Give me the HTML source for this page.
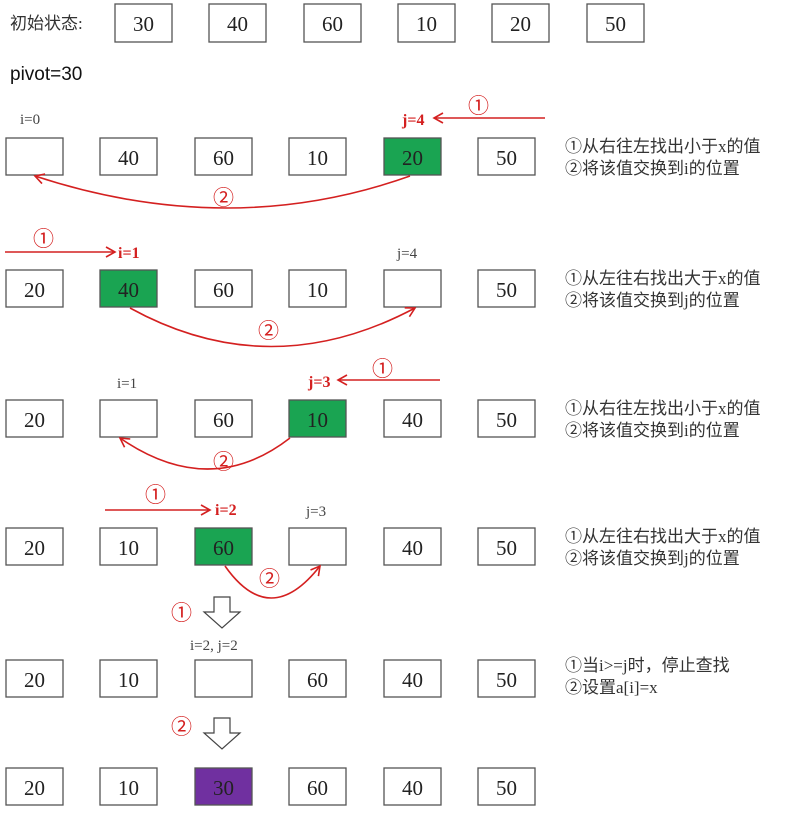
<!DOCTYPE html>
<html><head><meta charset="utf-8"><style>
body{margin:0;background:#fff;width:787px;height:813px;overflow:hidden}
svg text{font-family:"Liberation Serif","Noto Serif CJK SC",serif}
.n{font-size:21px;fill:#222;text-anchor:middle}
.g{font-size:15px;fill:#444}
.r{font-size:16px;fill:#d42020;font-weight:bold}
.c{font-size:21px;fill:#d42020;font-family:"Liberation Sans","Noto Sans CJK SC",sans-serif}
.t{font-size:17px;fill:#333;font-family:"Liberation Serif","Noto Sans CJK SC",sans-serif}
rect{stroke:#555;stroke-width:1.3;fill:#fff}
.ln{stroke:#d42020;stroke-width:1.6;fill:none}
</style></head><body>
<svg width="787" height="813" xmlns="http://www.w3.org/2000/svg">
<defs><marker id="a" markerWidth="12" markerHeight="12" refX="10" refY="6" orient="auto" markerUnits="userSpaceOnUse"><path d="M1,1 L10,6 L1,11" fill="none" stroke="#d42020" stroke-width="1.6"/></marker></defs>
<text x="10" y="29" class="t">初始状态:</text>
<g>
<rect x="115" y="4" width="57" height="38"/><text x="143.5" y="31" class="n">30</text>
<rect x="209" y="4" width="57" height="38"/><text x="237.5" y="31" class="n">40</text>
<rect x="304" y="4" width="57" height="38"/><text x="332.5" y="31" class="n">60</text>
<rect x="398" y="4" width="57" height="38"/><text x="426.5" y="31" class="n">10</text>
<rect x="492" y="4" width="57" height="38"/><text x="520.5" y="31" class="n">20</text>
<rect x="587" y="4" width="57" height="38"/><text x="615.5" y="31" class="n">50</text>
</g>
<text x="10" y="80" style="font-family:'Liberation Sans',sans-serif;font-size:19px;fill:#111">pivot=30</text>

<g transform="translate(0,138)">
<rect x="6" width="57" height="37"/>
<rect x="100" width="57" height="37"/><text x="128.5" y="27" class="n">40</text>
<rect x="195" width="57" height="37"/><text x="223.5" y="27" class="n">60</text>
<rect x="289" width="57" height="37"/><text x="317.5" y="27" class="n">10</text>
<rect x="384" width="57" height="37" style="fill:#1aa452"/><text x="412.5" y="27" class="n">20</text>
<rect x="478" width="57" height="37"/><text x="506.5" y="27" class="n">50</text>
</g>
<text x="20" y="124" class="g">i=0</text>
<text x="402" y="125" class="r">j=4</text>
<line x1="545" y1="118" x2="434" y2="118" class="ln" marker-end="url(#a)"/>
<text x="468" y="113" class="c">①</text>
<path d="M410,176 Q230,240 35,176" class="ln" marker-end="url(#a)"/>
<text x="213" y="205" class="c">②</text>
<text x="565" y="152" class="t">①从右往左找出小于x的值</text>
<text x="565" y="174" class="t">②将该值交换到i的位置</text>

<g transform="translate(0,270)">
<rect x="6" width="57" height="37"/><text x="34.5" y="27" class="n">20</text>
<rect x="100" width="57" height="37" style="fill:#1aa452"/><text x="128.5" y="27" class="n">40</text>
<rect x="195" width="57" height="37"/><text x="223.5" y="27" class="n">60</text>
<rect x="289" width="57" height="37"/><text x="317.5" y="27" class="n">10</text>
<rect x="384" width="57" height="37"/>
<rect x="478" width="57" height="37"/><text x="506.5" y="27" class="n">50</text>
</g>
<line x1="5" y1="252" x2="115" y2="252" class="ln" marker-end="url(#a)"/>
<text x="33" y="246" class="c">①</text>
<text x="118" y="258" class="r">i=1</text>
<text x="397" y="258" class="g">j=4</text>
<path d="M130,308 Q270,385 415,308" class="ln" marker-end="url(#a)"/>
<text x="258" y="338" class="c">②</text>
<text x="565" y="284" class="t">①从左往右找出大于x的值</text>
<text x="565" y="306" class="t">②将该值交换到j的位置</text>

<g transform="translate(0,400)">
<rect x="6" width="57" height="37"/><text x="34.5" y="27" class="n">20</text>
<rect x="100" width="57" height="37"/>
<rect x="195" width="57" height="37"/><text x="223.5" y="27" class="n">60</text>
<rect x="289" width="57" height="37" style="fill:#1aa452"/><text x="317.5" y="27" class="n">10</text>
<rect x="384" width="57" height="37"/><text x="412.5" y="27" class="n">40</text>
<rect x="478" width="57" height="37"/><text x="506.5" y="27" class="n">50</text>
</g>
<text x="117" y="388" class="g">i=1</text>
<text x="308" y="387" class="r">j=3</text>
<line x1="440" y1="380" x2="338" y2="380" class="ln" marker-end="url(#a)"/>
<text x="372" y="376" class="c">①</text>
<path d="M290,438 Q210,500 120,438" class="ln" marker-end="url(#a)"/>
<text x="213" y="469" class="c">②</text>
<text x="565" y="414" class="t">①从右往左找出小于x的值</text>
<text x="565" y="436" class="t">②将该值交换到i的位置</text>

<g transform="translate(0,528)">
<rect x="6" width="57" height="37"/><text x="34.5" y="27" class="n">20</text>
<rect x="100" width="57" height="37"/><text x="128.5" y="27" class="n">10</text>
<rect x="195" width="57" height="37" style="fill:#1aa452"/><text x="223.5" y="27" class="n">60</text>
<rect x="289" width="57" height="37"/>
<rect x="384" width="57" height="37"/><text x="412.5" y="27" class="n">40</text>
<rect x="478" width="57" height="37"/><text x="506.5" y="27" class="n">50</text>
</g>
<line x1="105" y1="510" x2="210" y2="510" class="ln" marker-end="url(#a)"/>
<text x="145" y="502" class="c">①</text>
<text x="215" y="515" class="r">i=2</text>
<text x="306" y="516" class="g">j=3</text>
<path d="M225,566 Q270,630 320,566" class="ln" marker-end="url(#a)"/>
<text x="259" y="586" class="c">②</text>
<text x="565" y="542" class="t">①从左往右找出大于x的值</text>
<text x="565" y="564" class="t">②将该值交换到j的位置</text>

<path d="M214,597 L230,597 L230,612 L240,612 L222,628 L204,612 L214,612 Z" fill="#fff" stroke="#444" stroke-width="1.2"/>
<text x="171" y="620" class="c">①</text>
<text x="190" y="650" class="g">i=2, j=2</text>

<g transform="translate(0,660)">
<rect x="6" width="57" height="37"/><text x="34.5" y="27" class="n">20</text>
<rect x="100" width="57" height="37"/><text x="128.5" y="27" class="n">10</text>
<rect x="195" width="57" height="37"/>
<rect x="289" width="57" height="37"/><text x="317.5" y="27" class="n">60</text>
<rect x="384" width="57" height="37"/><text x="412.5" y="27" class="n">40</text>
<rect x="478" width="57" height="37"/><text x="506.5" y="27" class="n">50</text>
</g>
<text x="565" y="671" class="t">①当i&gt;=j时，停止查找</text>
<text x="565" y="693" class="t">②设置a[i]=x</text>

<path d="M214,718 L230,718 L230,733 L240,733 L222,749 L204,733 L214,733 Z" fill="#fff" stroke="#444" stroke-width="1.2"/>
<text x="171" y="734" class="c">②</text>

<g transform="translate(0,768)">
<rect x="6" width="57" height="37"/><text x="34.5" y="27" class="n">20</text>
<rect x="100" width="57" height="37"/><text x="128.5" y="27" class="n">10</text>
<rect x="195" width="57" height="37" style="fill:#7030a0"/><text x="223.5" y="27" class="n">30</text>
<rect x="289" width="57" height="37"/><text x="317.5" y="27" class="n">60</text>
<rect x="384" width="57" height="37"/><text x="412.5" y="27" class="n">40</text>
<rect x="478" width="57" height="37"/><text x="506.5" y="27" class="n">50</text>
</g>
</svg>
</body></html>
